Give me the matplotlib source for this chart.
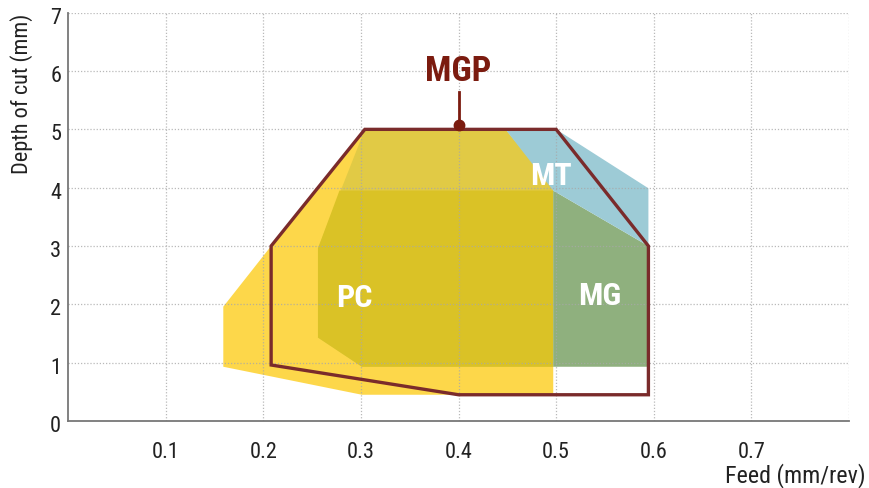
import matplotlib
matplotlib.use("Agg")
import matplotlib.pyplot as plt
from matplotlib import font_manager as fm
from matplotlib.transforms import ScaledTranslation

# ---- data (feed mm/rev, depth of cut mm) ----
pc_outer_feed = [0.159, 0.159, 0.208, 0.304, 0.448, 0.497, 0.497, 0.301]
pc_outer_depth = [0.93, 1.96, 3.0, 5.0, 5.0, 4.0, 0.45, 0.45]

pc_top_feed = [0.256, 0.256, 0.304, 0.448, 0.497, 0.497, 0.301]
pc_top_depth = [1.43, 2.96, 5.0, 5.0, 4.0, 0.93, 0.93]

pc_core_feed = [0.256, 0.256, 0.278, 0.497, 0.497, 0.301]
pc_core_depth = [1.43, 2.96, 3.95, 3.95, 0.93, 0.93]

mg_feed = [0.497, 0.497, 0.5945, 0.5945]
mg_depth = [0.93, 3.95, 3.0, 0.93]

mt_feed = [0.448, 0.5, 0.5945, 0.5945, 0.497]
mt_depth = [5.0, 5.0, 3.99, 3.0, 3.95]

mgp_feed = [0.208, 0.208, 0.304, 0.5, 0.5945, 0.5945, 0.40]
mgp_depth = [0.96, 3.0, 5.0, 5.0, 3.0, 0.45, 0.45]

x_ticks = [0.1, 0.2, 0.3, 0.4, 0.5, 0.6, 0.7]
x_ticklabels = ["0.1", "0.2", "0.3", "0.4", "0.5", "0.6", "0.7"]
y_ticks = [0, 1, 2, 3, 4, 5, 6, 7]
y_ticklabels = ["0", "1", "2", "3", "4", "5", "6", "7"]

labels = ["PC", "MT", "MG"]
label_feed = [0.293, 0.495, 0.545]
label_depth = [2.11, 4.2, 2.14]

mgp_label = "MGP"
mgp_point = (0.40, 5.0)

# ---- fonts ----
avail = {f.name for f in fm.fontManager.ttflist}
cands = ["Roboto Condensed", "Liberation Sans Narrow", "Arial Narrow", "PT Sans Narrow",
         "Archivo Narrow", "Asap Condensed", "Liberation Sans"]
narrow = next(c for c in cands if c in avail)
narrow_b = narrow

fig = plt.figure(figsize=(8.69, 4.88), dpi=100)
ax = fig.add_axes([68.1 / 869, 1 - 421 / 488, (849 - 68.1) / 869, (421 - 12.7) / 488])
ax.set_xlim(0, 0.8)
ax.set_ylim(0, 7)

ax.fill(pc_outer_feed, pc_outer_depth, color="#FDD74A", lw=0, zorder=1)
ax.fill(pc_top_feed, pc_top_depth, color="#E1CA45", lw=0, zorder=2)
ax.fill(pc_core_feed, pc_core_depth, color="#DAC226", lw=0, zorder=3)
ax.fill(mg_feed, mg_depth, color="#8FB07E", lw=0, zorder=3)
ax.fill(mt_feed, mt_depth, color="#9DCBD6", lw=0, zorder=3)

# grid
for xv in [0.1, 0.2, 0.3, 0.4, 0.5, 0.6, 0.7, 0.8]:
    ax.axvline(xv, color="#a8a8a8", lw=0.9, ls=(0, (1, 1.5)), alpha=0.8, zorder=4)
for yv in [1, 2, 3, 4, 5, 6, 7]:
    ax.axhline(yv, color="#a8a8a8", lw=0.9, ls=(0, (1, 1.5)), alpha=0.8, zorder=4)

ax.fill(mgp_feed, mgp_depth, facecolor="none", edgecolor="#7A2B2B", lw=2.4,
        joinstyle="miter", zorder=6)

# MGP pointer
ax.plot([mgp_point[0], mgp_point[0]], [mgp_point[1] + 0.08, 5.64], color="#7B1B0F", lw=2, zorder=7)
ax.plot([mgp_point[0]], [mgp_point[1] + 0.07], "o", color="#7B1B0F", ms=7.5, zorder=7)
ax.text(mgp_point[0], 6.0, mgp_label, color="#7B1B0F", fontsize=25, fontweight="bold",
        family=narrow_b, ha="center", va="center", zorder=8)

for t, fx, dy in zip(labels, label_feed, label_depth):
    ax.text(fx, dy, t, color="white", fontsize=23, fontweight="bold", family=narrow_b,
            ha="center", va="center", zorder=8)

ax.set_xticks(x_ticks)
ax.set_xticklabels(x_ticklabels)
ax.set_yticks(y_ticks)
ax.set_yticklabels(y_ticklabels)
ax.tick_params(axis="both", length=0, labelsize=16, labelcolor="#222222")
ax.tick_params(axis="x", pad=15)
ax.tick_params(axis="y", pad=5)
for lab in ax.get_xticklabels() + ax.get_yticklabels():
    lab.set_family(narrow)
for lab in ax.get_yticklabels():
    lab.set_transform(lab.get_transform() + ScaledTranslation(0, -3 / 100, fig.dpi_scale_trans))

for s in ["top", "right"]:
    ax.spines[s].set_visible(False)
for s in ["left", "bottom"]:
    ax.spines[s].set_color("#777777")
    ax.spines[s].set_linewidth(1.3)
    ax.spines[s].set_zorder(9)

fig.text(22 / 869, 1 - 94 / 488, "Depth of cut (mm)", rotation=90, ha="center", va="center",
         fontsize=16, family=narrow, color="#222222")
fig.text(866 / 869, 1 - 476 / 488, "Feed (mm/rev)", ha="right", va="center",
         fontsize=17.3, family=narrow, color="#222222")

fig.savefig("out.png", dpi=100)
